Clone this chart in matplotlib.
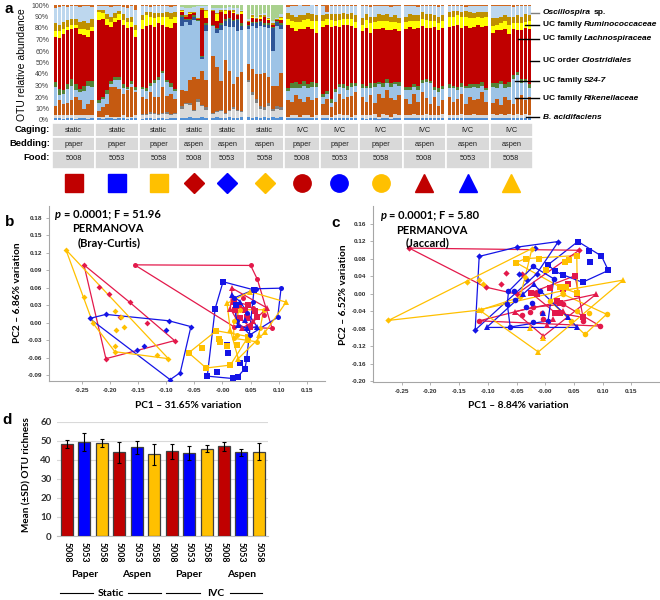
import numpy as np
import matplotlib.pyplot as plt
from matplotlib.patches import Rectangle
from matplotlib.lines import Line2D

plt.rcParams['font.family'] = ['Liberation Sans', 'DejaVu Sans']
CAL = ['Lato', 'DejaVu Sans']

# ---------------- panel a: relative abundance per sample (%), one dict per group
# layers bottom-up; the light-blue Oscillospira layer is the remainder to 100 %
g_static_paper_5008 = dict(
    bacid=[2, 2, 1, 2, 2, 1, 2, 2, 1, 2], grey=[2, 2, 3, 2, 2, 3, 2, 2, 3, 2],
    rik=[8, 13, 10, 11, 13, 16, 13, 6, 10, 13], s24=[17, 5, 9, 12, 13, 6, 7, 15, 16, 12],
    green=[4, 5, 3, 4, 6, 5, 3, 5, 4, 5], clos=[39, 44, 49, 47, 43, 49, 48, 44, 38, 43],
    lachno=[5, 6, 4, 3, 4, 3, 4, 5, 6, 4], rumino=[7, 6, 6, 6, 5, 5, 6, 7, 6, 7],
    torange=[3, 2, 1, 2, 1, 1, 2, 1, 1, 2])
g_static_paper_5053 = dict(
    bacid=[2, 1, 2, 2, 1, 2, 2, 1, 2, 2], grey=[1, 2, 2, 1, 2, 1, 2, 2, 1, 2],
    rik=[5, 8, 10, 26, 26, 24, 19, 23, 26, 20], s24=[7, 7, 9, 2, 6, 8, 5, 1, 2, 2],
    green=[2, 2, 3, 3, 2, 2, 3, 2, 3, 3], clos=[70, 68, 57, 47, 48, 50, 52, 51, 47, 43],
    lachno=[7, 5, 5, 4, 4, 5, 4, 5, 4, 6], rumino=[2, 3, 4, 5, 4, 3, 5, 4, 5, 5],
    torange=[1, 1, 1, 2, 1, 1, 2, 3, 1, 4])
g_static_paper_5058 = dict(
    bacid=[1, 2, 2, 1, 2, 2, 1, 2, 2], grey=[3, 2, 3, 4, 2, 3, 4, 2, 3],
    dgrey=[1, 1, 2, 1, 1, 1, 2, 1, 1], rik=[15, 13, 17, 14, 15, 23, 14, 18, 12],
    s24=[7, 7, 6, 12, 15, 12, 12, 6, 7], green=[2, 3, 2, 3, 2, 2, 2, 3, 2],
    clos=[50, 54, 51, 46, 47, 40, 46, 48, 57], lachno=[8, 9, 7, 8, 6, 7, 9, 8, 6],
    rumino=[4, 3, 4, 4, 3, 3, 4, 5, 4], torange=[1, 1, 2, 1, 1, 1, 1, 2, 1])
g_static_aspen_5008 = dict(
    bacid=[2, 2, 3, 2, 2, 3, 2], grey=[8, 12, 10, 6, 14, 9, 7], dgrey=[2, 1, 2, 1, 2, 1, 2],
    rik=[14, 10, 20, 28, 18, 30, 24], s24=[56, 60, 48, 50, 50, 10, 42],
    dblue=[8, 2, 4, 3, 0, 2, 6], green=[1, 1, 1, 1, 1, 1, 1], clos=[3, 2, 4, 2, 1, 40, 5],
    lachno=[1, 0, 1, 0, 0, 0, 6], rumino=[1, 1, 1, 1, 1, 1, 1], lgreen=[2, 3, 3, 2, 1, 1, 1])
g_static_aspen_5053 = dict(
    bacid=[2, 3, 2, 2, 3, 2, 2, 3], grey=[3, 4, 6, 3, 5, 8, 6, 4], dgrey=[1, 1, 1, 1, 1, 1, 1, 1],
    rik=[50, 38, 25, 46, 34, 20, 28, 34], s24=[26, 30, 44, 30, 38, 50, 40, 36],
    dblue=[0, 3, 5, 4, 7, 5, 10, 4], green=[1, 1, 1, 2, 1, 1, 1, 2], clos=[12, 6, 10, 4, 6, 6, 3, 8],
    lachno=[0, 6, 0, 3, 0, 1, 0, 2], rumino=[1, 1, 2, 1, 1, 2, 1, 1], lgreen=[3, 3, 3, 3, 2, 3, 3, 4])
g_static_aspen_5058 = dict(
    bacid=[3, 2, 3, 2, 3, 2, 3, 2, 3], grey=[30, 20, 12, 8, 6, 10, 5, 8, 6],
    dgrey=[2, 2, 3, 2, 2, 3, 2, 2, 2], rik=[14, 20, 22, 28, 30, 22, 20, 18, 30],
    s24=[30, 38, 40, 42, 40, 43, 30, 52, 38], dblue=[3, 2, 4, 3, 2, 3, 20, 3, 4],
    green=[1, 1, 1, 1, 1, 1, 1, 1, 1], clos=[2, 4, 3, 2, 6, 3, 2, 1, 3],
    lachno=[0, 1, 0, 2, 0, 1, 0, 0, 2], rumino=[1, 1, 1, 1, 1, 1, 1, 1, 1],
    lgreen=[12, 8, 10, 8, 7, 10, 14, 11, 8])
g_ivc_paper_5008 = dict(
    bacid=[2, 2, 2, 2, 2, 2, 2, 2], grey=[1, 2, 2, 1, 2, 2, 1, 2],
    rik=[14, 12, 18, 15, 12, 16, 14, 15], s24=[8, 12, 6, 10, 14, 8, 12, 10],
    green=[3, 4, 5, 3, 4, 3, 4, 3], clos=[55, 48, 44, 48, 45, 50, 46, 44],
    lachno=[5, 6, 8, 6, 8, 7, 7, 10], rumino=[5, 5, 5, 6, 4, 5, 6, 5], torange=[2, 1, 1, 0, 1, 1, 0, 1])
g_ivc_paper_5053 = dict(
    bacid=[2, 2, 2, 2, 2, 2, 2, 2, 2], grey=[2, 2, 1, 2, 3, 2, 2, 1, 2],
    rik=[10, 14, 8, 12, 18, 14, 16, 18, 20], s24=[6, 5, 4, 8, 6, 10, 6, 8, 6],
    green=[3, 2, 3, 3, 2, 3, 4, 3, 2], clos=[58, 58, 63, 55, 50, 52, 53, 50, 48],
    lachno=[5, 5, 6, 4, 6, 5, 5, 6, 5], rumino=[5, 4, 5, 6, 5, 5, 4, 5, 6],
    torange=[1, 6, 1, 1, 1, 1, 1, 1, 1])
g_ivc_paper_5058 = dict(
    bacid=[2, 1, 2, 2, 1, 2, 2, 1, 2, 2], grey=[2, 3, 2, 3, 2, 3, 2, 2, 3, 2],
    rik=[16, 12, 18, 10, 20, 14, 22, 16, 12, 18], s24=[8, 12, 6, 14, 8, 10, 6, 10, 14, 8],
    green=[3, 2, 4, 3, 2, 3, 4, 3, 2, 3], clos=[46, 50, 44, 47, 46, 48, 42, 46, 46, 44],
    lachno=[6, 7, 8, 6, 7, 6, 8, 7, 6, 7], rumino=[6, 5, 6, 5, 6, 5, 6, 5, 6, 5],
    torange=[1, 1, 2, 1, 1, 1, 1, 2, 1, 1])
g_ivc_aspen_5008 = dict(
    bacid=[2, 2, 2, 2, 2, 2, 2, 2, 2, 2], grey=[2, 2, 3, 2, 2, 3, 2, 2, 2, 3],
    rik=[14, 10, 18, 12, 20, 14, 10, 16, 8, 12], s24=[8, 12, 6, 10, 8, 14, 18, 6, 12, 10],
    green=[3, 3, 2, 4, 3, 3, 2, 3, 4, 3], clos=[50, 52, 48, 50, 47, 44, 46, 52, 50, 50],
    lachno=[6, 5, 7, 6, 6, 7, 6, 5, 6, 6], rumino=[5, 6, 5, 5, 6, 5, 6, 5, 6, 5],
    torange=[1, 1, 1, 2, 1, 1, 1, 1, 2, 1])
g_ivc_aspen_5053 = dict(
    bacid=[2, 2, 2, 2, 2, 2, 2, 2, 2, 2], grey=[2, 2, 2, 3, 2, 2, 3, 2, 2, 2],
    rik=[16, 12, 14, 18, 10, 16, 12, 14, 20, 12], s24=[8, 12, 8, 6, 14, 8, 12, 10, 6, 10],
    green=[3, 2, 3, 3, 2, 3, 2, 3, 3, 2], clos=[50, 52, 54, 48, 52, 49, 50, 52, 48, 54],
    lachno=[9, 8, 8, 10, 8, 9, 8, 7, 8, 8], rumino=[4, 5, 4, 4, 5, 5, 4, 4, 5, 4],
    torange=[1, 1, 1, 1, 2, 1, 1, 1, 1, 1])
g_ivc_aspen_5058 = dict(
    bacid=[2, 2, 2, 2, 2, 2, 2, 2, 2, 2], grey=[3, 2, 3, 2, 3, 2, 3, 2, 3, 2],
    rik=[10, 14, 8, 16, 12, 10, 14, 18, 12, 16], s24=[14, 10, 18, 8, 12, 22, 20, 10, 16, 8],
    green=[3, 4, 3, 3, 4, 3, 3, 4, 3, 3], clos=[44, 46, 44, 48, 42, 40, 36, 42, 44, 48],
    lachno=[6, 5, 6, 7, 8, 5, 6, 6, 5, 7], rumino=[7, 6, 6, 5, 7, 6, 7, 6, 7, 5],
    torange=[1, 1, 1, 1, 1, 2, 1, 1, 1, 1])

groups_a = [g_static_paper_5008, g_static_paper_5053, g_static_paper_5058,
            g_static_aspen_5008, g_static_aspen_5053, g_static_aspen_5058,
            g_ivc_paper_5008, g_ivc_paper_5053, g_ivc_paper_5058,
            g_ivc_aspen_5008, g_ivc_aspen_5053, g_ivc_aspen_5058]

caging = ['static'] * 6 + ['IVC'] * 6
bedding = ['paper', 'paper', 'paper', 'aspen', 'aspen', 'aspen'] * 2
food = ['5008', '5053', '5058'] * 4

layer_order = ['bacid', 'grey', 'dgrey', 'rik', 's24', 'dblue', 'green', 'clos',
               'lachno', 'rumino', 'osc', 'lgreen', 'torange']
layer_colors = {'bacid': '#4F8FD6', 'grey': '#D9D9D9', 'dgrey': '#7F7F7F', 'rik': '#C55A11',
                's24': '#9DC3E6', 'dblue': '#2F5597', 'green': '#548235', 'clos': '#C00000',
                'lachno': '#FFFF00', 'rumino': '#BF9000', 'osc': '#BDD7EE',
                'lgreen': '#A9D18E', 'torange': '#D0681F'}

taxa_labels = [
    [('Oscillospira', 'italic'), ('sp.', 'normal')],
    [('UC family', 'normal'), ('Ruminococcaceae', 'italic')],
    [('UC family', 'normal'), ('Lachnospiraceae', 'italic')],
    [('UC order', 'normal'), ('Clostridiales', 'italic')],
    [('UC family', 'normal'), ('S24-7', 'italic')],
    [('UC family', 'normal'), ('Rikenellaceae', 'italic')],
    [('B. acidifaciens', 'italic')],
]

# ---------------- panels b, c: PCoA coordinates (PC1, PC2) per group
BC_SP08 = [(0.022, 0.022), (0.030, 0.029), (0.040, 0.022), (0.046, 0.030), (0.058, 0.019),
           (0.061, 0.010), (0.043, 0.010), (0.031, 0.007), (0.049, -0.007), (0.020, 0.036)]
BC_SP53 = [(0.001, 0.070), (-0.013, 0.024), (-0.027, -0.092), (0.018, -0.096), (0.043, -0.062),
           (0.008, -0.039), (0.009, -0.053), (-0.010, -0.085), (0.027, -0.093), (0.031, -0.070),
           (0.040, -0.079), (0.024, 0.030), (0.056, 0.056)]
BC_SP58 = [(-0.060, -0.052), (-0.029, -0.078), (0.014, -0.073), (0.046, -0.024), (-0.011, -0.014),
           (-0.037, -0.044), (-0.007, -0.028), (-0.004, -0.033), (0.008, -0.041), (0.025, -0.039)]
BC_SA08 = [(-0.246, 0.099), (-0.207, -0.062), (-0.085, -0.031), (-0.219, 0.061), (-0.201, 0.049),
           (-0.165, 0.035), (-0.134, 0.000), (-0.182, 0.009)]
BC_SA53 = [(-0.236, 0.007), (-0.207, 0.014), (-0.095, 0.003), (-0.056, -0.007), (-0.075, -0.086),
           (-0.093, -0.098), (-0.101, -0.012), (-0.152, -0.047), (-0.139, -0.041)]
BC_SA58 = [(-0.278, 0.125), (-0.246, 0.043), (-0.230, -0.001), (-0.191, -0.050), (-0.096, -0.062),
           (-0.191, 0.019), (-0.189, -0.013), (-0.175, -0.007), (-0.191, -0.041), (-0.181, 0.009),
           (-0.117, -0.056)]
BC_IP08 = [(-0.156, 0.099), (0.050, 0.098), (0.062, 0.074), (0.088, -0.010), (0.020, -0.007),
           (0.055, 0.025), (0.037, 0.042), (0.073, 0.013)]
BC_IP53 = [(0.104, 0.059), (0.098, 0.009), (0.049, -0.021), (0.025, 0.002), (0.020, 0.042),
           (0.055, 0.036), (0.043, 0.016), (0.060, 0.058)]
BC_IP58 = [(0.025, -0.021), (0.067, -0.010), (0.073, 0.022), (0.031, 0.022), (0.020, 0.002),
           (0.061, -0.033), (0.020, -0.027)]
BC_IA08 = [(0.017, 0.059), (0.014, 0.024), (0.055, 0.002), (0.079, 0.025), (0.046, 0.007),
           (0.034, -0.010)]
BC_IA53 = [(0.017, 0.048), (0.031, 0.036), (0.061, -0.007), (0.043, -0.010), (0.027, -0.004),
           (0.040, 0.005)]
BC_IA58 = [(0.008, 0.033), (0.113, 0.035), (0.076, -0.016), (0.028, -0.062), (0.014, -0.013),
           (0.046, -0.030), (0.064, -0.021), (0.049, 0.053)]

JC_SP08 = [(-0.025, 0.002), (-0.015, -0.001), (0.008, 0.013), (0.020, -0.016), (0.026, -0.022),
           (0.039, 0.022), (0.052, 0.041), (0.031, 0.011), (0.026, -0.043), (0.017, -0.043),
           (0.066, -0.054), (0.055, -0.001)]
JC_SP53 = [(0.057, 0.119), (0.077, 0.097), (0.078, 0.072), (0.098, 0.086), (0.110, 0.053),
           (0.065, 0.026), (0.017, 0.051), (0.031, 0.043), (0.005, 0.066)]
JC_SP58 = [(-0.051, 0.071), (-0.034, 0.080), (-0.010, 0.080), (0.002, 0.055), (0.034, 0.072),
           (0.042, 0.076), (0.055, 0.087), (0.056, 0.001), (0.037, 0.015), (0.026, 0.015)]
JC_SA08 = [(-0.237, 0.104), (0.059, 0.099), (-0.104, 0.015), (-0.077, 0.021), (-0.069, 0.047),
           (-0.050, -0.001), (-0.041, 0.045)]
JC_SA53 = [(-0.115, 0.085), (-0.050, 0.106), (-0.018, 0.104), (0.023, 0.119), (-0.045, 0.044),
           (-0.032, 0.031), (-0.015, 0.045), (-0.122, -0.083)]
JC_SA58 = [(-0.273, -0.061), (-0.137, 0.026), (-0.115, 0.031), (-0.108, 0.022), (-0.112, -0.037),
           (-0.023, 0.103), (-0.035, 0.038), (-0.044, -0.008)]
JC_IP08 = [(-0.006, -0.044), (-0.003, -0.058), (-0.021, -0.031), (-0.027, -0.041), (-0.041, -0.048),
           (0.066, -0.062), (0.096, -0.074), (-0.115, -0.062), (0.031, -0.024)]
JC_IP53 = [(-0.064, 0.005), (-0.054, 0.007), (-0.053, -0.015), (-0.021, 0.062), (-0.023, -0.021),
           (-0.034, -0.030), (-0.009, 0.007), (-0.021, -0.064), (0.005, -0.062), (-0.061, -0.076),
           (-0.066, -0.024), (0.015, 0.034)]
JC_IP58 = [(0.107, -0.047), (0.069, -0.093), (0.077, -0.043), (0.055, -0.039), (0.045, -0.062),
           (0.031, -0.001), (0.008, -0.016)]
JC_IA08 = [(-0.003, -0.097), (-0.053, -0.041), (0.089, -0.001), (0.014, -0.058), (0.003, -0.071),
           (0.031, -0.039)]
JC_IA53 = [(-0.003, -0.045), (-0.020, 0.021), (0.039, -0.053), (0.056, -0.077), (-0.102, -0.077),
           (-0.038, -0.001)]
JC_IA58 = [(0.136, 0.031), (-0.012, -0.133), (-0.003, -0.102), (-0.027, -0.079), (-0.115, -0.037),
           (0.031, 0.007)]

bray_groups = [BC_SP08, BC_SP53, BC_SP58, BC_SA08, BC_SA53, BC_SA58,
               BC_IP08, BC_IP53, BC_IP58, BC_IA08, BC_IA53, BC_IA58]
jac_groups = [JC_SP08, JC_SP53, JC_SP58, JC_SA08, JC_SA53, JC_SA58,
              JC_IP08, JC_IP53, JC_IP58, JC_IA08, JC_IA53, JC_IA58]

# ---------------- panel d: OTU richness
richness_mean = [48.2, 49.5, 48.8, 43.9, 46.5, 42.9, 44.4, 43.5, 45.8, 47.0, 43.9, 44.3]
richness_sd = [2.1, 4.8, 2.1, 5.6, 3.3, 5.5, 4.0, 3.6, 1.8, 2.5, 1.8, 4.5]

food_colors = {'5008': '#C00000', '5053': '#0000FF', '5058': '#FFC000'}
pc_colors = {'5008': '#E3194B', '5053': '#1414E6', '5058': '#FFC000'}
markers = ['s'] * 3 + ['D'] * 3 + ['o'] * 3 + ['^'] * 3

W, H = 660, 600
fig = plt.figure(figsize=(6.6, 6.0), dpi=100)
renderer = fig.canvas.get_renderer()


def add_ax(left, top, right, bottom):
    return fig.add_axes([left / W, 1 - bottom / H, (right - left) / W, (bottom - top) / H])


def rich(x, y, pieces, size, family, ha='left'):
    arts = [fig.text(0, 0, s, fontsize=size, fontweight='bold', fontstyle=st,
                     family=family, va='center', ha='left') for s, st in pieces]
    a1 = fig.text(0, 0, 'x x', fontsize=size, fontweight='bold', family=family)
    a2 = fig.text(0, 0, 'xx', fontsize=size, fontweight='bold', family=family)
    space = a1.get_window_extent(renderer).width - a2.get_window_extent(renderer).width
    a1.remove()
    a2.remove()
    widths = [a.get_window_extent(renderer).width for a in arts]
    total = sum(widths) + space * (len(arts) - 1)
    x0 = x - total / 2 if ha == 'center' else x
    for a, w in zip(arts, widths):
        a.set_position((x0 / W, 1 - y / H))
        x0 += w + space


def hull(points):
    pts = sorted(set(points))
    if len(pts) < 3:
        return pts

    def cross(o, a, b):
        return (a[0] - o[0]) * (b[1] - o[1]) - (a[1] - o[1]) * (b[0] - o[0])
    lower, upper = [], []
    for p in pts:
        while len(lower) >= 2 and cross(lower[-2], lower[-1], p) <= 0:
            lower.pop()
        lower.append(p)
    for p in reversed(pts):
        while len(upper) >= 2 and cross(upper[-2], upper[-1], p) <= 0:
            upper.pop()
        upper.append(p)
    return lower[:-1] + upper[:-1]


# ================= panel a
ax_a = add_ax(52, 5, 533, 120)
gap = 0.7
pos = 0.0
group_x = []
for g in groups_a:
    n = len(g['clos'])
    xs = pos + np.arange(n)
    group_x.append(xs)
    vals = {k: np.array(g.get(k, np.zeros(n)), dtype=float) for k in layer_order if k != 'osc'}
    vals['osc'] = 100 - sum(vals.values())
    bottom = np.zeros(n)
    for k in layer_order:
        ax_a.bar(xs, vals[k], 0.86, bottom=bottom, color=layer_colors[k], linewidth=0)
        bottom += vals[k]
    pos += n + gap
xlim_a = (-0.5 - gap / 2, pos - gap - 0.5 + gap / 2)
ax_a.set_xlim(*xlim_a)
ax_a.set_ylim(0, 100)
ax_a.set_xticks([])
ax_a.set_yticks(range(0, 101, 10))
ax_a.set_yticklabels([f'{v}%' for v in range(0, 101, 10)], fontsize=5, color='#404040')
ax_a.tick_params(axis='y', length=0, pad=2)
for s in ax_a.spines.values():
    s.set_visible(False)
fig.text(22 / W, 1 - 65 / H, 'OTU relative abundance', rotation=90, fontsize=7.5,
         ha='center', va='center')

# legend of taxa with pointer lines
label_y = [13, 25, 39, 61, 81, 98, 117]
line_x0 = [531, 525, 518, 530, 515, 515, 526]
for i, (yy, x0, pieces) in enumerate(zip(label_y, line_x0, taxa_labels)):
    col = '#7F7F7F' if i == 0 else 'black'
    fig.add_artist(Line2D([x0 / W, 539 / W], [1 - yy / H] * 2, color=col, lw=1))
    rich(543, yy, pieces, 6, ['Liberation Sans', 'DejaVu Sans'])

# table below the bars
ax_t = add_ax(52, 121, 533, 197)
ax_t.set_xlim(*xlim_a)
ax_t.set_ylim(76, 0)
ax_t.axis('off')
rows = [(2, 14, 9, caging), (16, 14, 23, bedding), (30, 18, 37, food)]
for xs, i in zip(group_x, range(12)):
    x0 = xs[0] - 0.5 - gap / 2
    w = len(xs) + gap
    for y0, h, ty, labels in rows:
        ax_t.add_patch(Rectangle((x0, y0), w, h, facecolor='#D9D9D9', edgecolor='white', lw=1.2))
        ax_t.text(x0 + w / 2, ty, labels[i], fontsize=5.3, ha='center', va='center', color='#202020')
    ms = {'s': 12.5, 'D': 10, 'o': 12.5, '^': 12.5}[markers[i]]
    ax_t.plot(x0 + w / 2, 62, marker=markers[i], ms=ms, color=food_colors[food[i]],
              linestyle='none', clip_on=False)
for txt, yy in zip(['Caging:', 'Bedding:', 'Food:'], [130, 144, 158]):
    fig.text(50 / W, 1 - yy / H, txt, fontsize=6.8, fontweight='bold', ha='right', va='center')


# ================= panels b, c
def pcoa_panel(ax, data, xlim, ylim, xticks, yticks, sizes):
    for i, pts in enumerate(data):
        col = pc_colors[food[i]]
        hv = hull(pts)
        hx = [p[0] for p in hv] + [hv[0][0]]
        hy = [p[1] for p in hv] + [hv[0][1]]
        ax.plot(hx, hy, color=col, lw=0.9, zorder=2)
        ax.plot([p[0] for p in pts], [p[1] for p in pts], linestyle='none', marker=markers[i],
                ms=sizes[markers[i]], color=col, markeredgewidth=0, zorder=3)
    ax.set_xlim(*xlim)
    ax.set_ylim(*ylim)
    ax.set_xticks(xticks)
    ax.set_yticks(yticks)
    ax.set_xticklabels([f'{v:.2f}' for v in xticks])
    ax.set_yticklabels([f'{v:.2f}' for v in yticks])
    for lab in ax.get_xticklabels() + ax.get_yticklabels():
        lab.set_fontsize(4.6)
        lab.set_fontweight('bold')
        lab.set_color('#303030')
    ax.tick_params(length=2, width=0.6, color='#A6A6A6', pad=3)
    for k in ['top', 'right']:
        ax.spines[k].set_visible(False)
    for k in ['left', 'bottom']:
        ax.spines[k].set_color('#A6A6A6')
        ax.spines[k].set_linewidth(0.8)


ax_b = add_ax(49, 206, 325, 381)
pcoa_panel(ax_b, bray_groups, (-0.308, 0.182), (-0.1003, 0.2),
           np.arange(-0.25, 0.151, 0.05), np.arange(-0.09, 0.181, 0.03),
           {'s': 4.2, 'D': 3.0, 'o': 3.6, '^': 3.8})
ax_c = add_ax(373, 206, 660, 382)
pcoa_panel(ax_c, jac_groups, (-0.30, 0.20), (-0.2015, 0.2),
           np.arange(-0.25, 0.151, 0.05), np.arange(-0.20, 0.161, 0.04),
           {'s': 4.8, 'D': 3.2, 'o': 4.0, '^': 4.0})

rich(108, 214, [('p', 'italic'), ('= 0.0001; F = 51.96', 'normal')], 8, CAL, ha='center')
fig.text(108 / W, 1 - 229 / H, 'PERMANOVA', fontsize=8, fontweight='bold', family=CAL, ha='center', va='center')
fig.text(109 / W, 1 - 243 / H, '(Bray-Curtis)', fontsize=8, fontweight='bold', family=CAL, ha='center', va='center')
rich(430, 215, [('p', 'italic'), ('= 0.0001; F = 5.80', 'normal')], 8, CAL, ha='center')
fig.text(432 / W, 1 - 230 / H, 'PERMANOVA', fontsize=8, fontweight='bold', family=CAL, ha='center', va='center')
fig.text(428 / W, 1 - 243 / H, '(Jaccard)', fontsize=8, fontweight='bold', family=CAL, ha='center', va='center')

fig.text(18 / W, 1 - 293 / H, 'PC2 – 6.86% variation', rotation=90, fontsize=7.3, fontweight='bold',
         family=CAL, ha='center', va='center')
fig.text(343 / W, 1 - 295 / H, 'PC2 – 6.52% variation', rotation=90, fontsize=7.3, fontweight='bold',
         family=CAL, ha='center', va='center')
fig.text(188 / W, 1 - 406 / H, 'PC1 – 31.65% variation', fontsize=7.3, fontweight='bold',
         family=CAL, ha='center', va='center')
fig.text(518 / W, 1 - 406 / H, 'PC1 – 8.84% variation', fontsize=7.3, fontweight='bold',
         family=CAL, ha='center', va='center')

# ================= panel d
ax_d = add_ax(57, 421.7, 268, 536)
xd = np.arange(len(richness_mean))
ax_d.bar(xd, richness_mean, 0.69, color=[food_colors[f] for f in food], edgecolor='#404040',
         linewidth=0.9, zorder=3)
ax_d.errorbar(xd, richness_mean, yerr=richness_sd, fmt='none', ecolor='black', elinewidth=0.8,
              capsize=1.6, capthick=0.8, zorder=4)
ax_d.set_xlim(-0.573, 11.52)
ax_d.set_ylim(0, 60)
ax_d.set_yticks(range(0, 61, 10))
ax_d.yaxis.grid(True, color='#D9D9D9', lw=0.8, zorder=0)
ax_d.set_axisbelow(True)
for k in ['top', 'right', 'left']:
    ax_d.spines[k].set_visible(False)
ax_d.spines['bottom'].set_color('#BFBFBF')
ax_d.tick_params(length=0, pad=4)
ax_d.set_xticks(xd)
ax_d.set_xticklabels(food, rotation=-90, fontsize=6.3, fontweight='bold', family=CAL)
for lab in ax_d.get_yticklabels():
    lab.set_fontsize(7)
    lab.set_fontweight('bold')
    lab.set_family(CAL)
    lab.set_color('#303030')
fig.text(27 / W, 1 - 475 / H, 'Mean (±SD) OTU richness', rotation=90, fontsize=7.2,
         fontweight='bold', family=CAL, ha='center', va='center')

tr = ax_d.get_xaxis_transform()
for xc, txt in zip([1, 4, 7, 10], ['Paper', 'Aspen', 'Paper', 'Aspen']):
    ax_d.text(xc, -0.341, txt, transform=tr, fontsize=7.5, fontweight='bold', family=CAL,
              ha='center', va='center', clip_on=False)
for xc, txt, segs in [(2.5, 'Static', [(-0.4, 1.5), (3.5, 5.4)]),
                      (8.5, 'IVC', [(5.67, 7.65), (9.35, 11.2)])]:
    ax_d.text(xc, -0.499, txt, transform=tr, fontsize=7.5, fontweight='bold', family=CAL,
              ha='center', va='center', clip_on=False)
    for s0, s1 in segs:
        ax_d.plot([s0, s1], [-0.499, -0.499], transform=tr, color='black', lw=0.8, clip_on=False)

# panel letters
for ch, (x, y) in zip('abcd', [(9, 9), (10, 222), (336, 223), (7, 420)]):
    fig.text(x / W, 1 - y / H, ch, fontsize=11, fontweight='bold', ha='center', va='center')

fig.savefig('out.png', dpi=100)
